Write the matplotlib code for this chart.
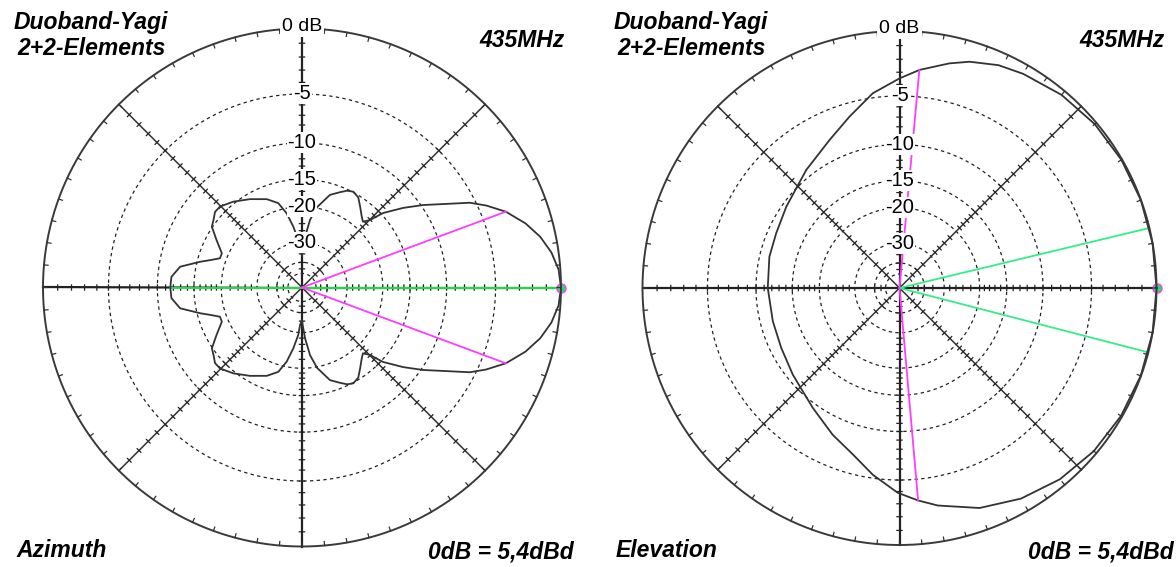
import numpy as np
import matplotlib
matplotlib.use("Agg")
import matplotlib.pyplot as plt

plt.rcParams['font.family'] = ['Liberation Sans', 'DejaVu Sans']
plt.rcParams['lines.scale_dashes'] = False

# ---------------- data ----------------
# Azimuth pattern, upper half (degrees, dB); the lower half is its mirror image
az_deg = [0, 4, 8, 12, 16, 20.4, 24, 26.8, 30.6, 34.3, 38.2, 42.6, 44.8, 47.2, 50,
          54.3, 58, 61.8, 65, 68.3, 73.2, 79.4, 83.2, 86.6, 89, 90, 91, 93, 94.5,
          98.1, 101.7, 105.7, 111.7, 120.5, 128.7, 135.4, 139, 142.7, 146, 150.9,
          156.9, 160.4, 163, 165.8, 170.3, 175.3, 180]
az_db = [0, -0.12, -0.48, -1.05, -1.85, -3.0, -4.3, -5.5, -7.85, -9.8, -12.0, -14.7,
         -17.1, -18.2, -17.6, -16.4, -15.3, -14.9, -15.2, -15.9, -16.9, -19.8, -22.9,
         -28.0, -33.2, -36.0, -35.0, -33.1, -29.1, -24.7, -21.1, -18.6, -17.2, -15.9,
         -14.7, -13.9, -13.9, -14.5, -14.9, -16.7, -18.7, -18.7, -17.3, -15.5, -12.7,
         -11.7, -11.6]

# Elevation pattern, full turn (degrees, dB)
el_deg = [0, 10, 20, 30, 40, 50, 60, 66, 72.8, 77.5, 84.8, 90, 97.8, 106.3, 115.3,
          128.3, 144.3, 156.1, 166.5, 180, 194.7, 206.9, 219.1, 226.9, 234.2, 245.5,
          254.4, 261.9, 269.5, 275, 280, 290, 300, 310, 320, 330, 340, 350, 360]
el_db = [0, 0, -0.01, -0.05, -0.14, -0.33, -0.66, -0.9, -1.4, -1.9, -2.75, -3.5, -4.6,
         -6.26, -7.74, -9.19, -10.5, -11.06, -11.2, -11.47, -11.57, -11.36, -10.74,
         -10.24, -9.47, -8.0, -6.8, -5.3, -3.9, -3.2, -2.6, -1.6, -0.95, -0.5, -0.22,
         -0.08, -0.02, 0, 0]

# Half-power (-3 dB) directions
az_hp_deg = [20.4, -20.4]
az_hp_db = [-3.0, -3.0]
el_hp_deg = [84.8, -85.0]
el_hp_db = [-2.75, -3.2]

# Front/back line (azimuth) and elevation marker lines
az_fb_deg = [0, 180]
az_fb_db = [0, -11.6]
el_mark_deg = [13.5, -14.5]
el_mark_db = [0, 0]

# Grid
ring_levels = [-5, -10, -15, -20, -30, -40, -50]
ring_labels = ['-5', '-10', '-15', '-20', '-30']
spoke_ticks = list(range(-1, -20, -1)) + [-22, -24, -26, -28, -35, -40, -45]

title_lines = ['Duoband-Yagi', '2+2-Elements']
freq_text = '435MHz'
ref_text = '0dB = 5,4dBd'
panel_names = ['Azimuth', 'Elevation']

# ---------------- scale ----------------
GAIN_BASE = 0.89     # ARRL log-periodic scale: 0.89 per 2 dB
R_MIN = -200.0


def fwd(db):
    return np.power(GAIN_BASE, -np.asarray(db, dtype=float) / 2.0)


def inv(v):
    v = np.clip(np.asarray(v, dtype=float), 1e-300, None)
    return -2.0 * np.log(v) / np.log(GAIN_BASE)


W, H = 1176, 567
fig = plt.figure(figsize=(W / 100, H / 100), dpi=100)
fig.patch.set_facecolor('white')

PAT_COLOR = '#333333'
MAGENTA = '#ff3cff'


def make_axes(cx, cy, rad):
    ax = fig.add_axes([(cx - rad) / W, (H - cy - rad) / H, 2 * rad / W, 2 * rad / H],
                      projection='polar')
    ax.set_rscale('function', functions=(fwd, inv))
    ax.set_rlim(R_MIN, 0)
    ax.set_xticks([])
    ax.set_yticks([])
    ax.grid(False)
    ax.spines['polar'].set_visible(False)
    ax.patch.set_visible(False)
    return ax


def draw_grid(ax, rad):
    th = np.linspace(0, 2 * np.pi, 1441)
    for lev in ring_levels:
        ax.plot(th, np.full_like(th, lev), color='#222222', lw=0.9,
                dashes=(2.4, 2.4), clip_on=False, zorder=1)
    # spokes
    for a in range(0, 360, 45):
        main = a % 90 == 0
        ax.plot([np.deg2rad(a)] * 2, [R_MIN, 0], color='#222222' if main else '#333333',
                lw=1.6 if main else 1.1, clip_on=False, zorder=2)
    # tick marks across the spokes
    ts, rs = [], []
    half = 2.6
    for a in range(0, 360, 45):
        for lev in spoke_ticks:
            d = half / (rad * fwd(lev))
            t0 = np.deg2rad(a)
            ts += [t0 - d, t0 + d, np.nan]
            rs += [lev, lev, np.nan]
    ax.plot(ts, rs, color='#222222', lw=0.9, clip_on=False, zorder=2)
    # outer circle with inward ticks every 5 degrees
    ax.plot(th, np.zeros_like(th), color='#3a3a3a', lw=1.4, clip_on=False, zorder=6)
    tick_db = float(inv(1 - 4.0 / rad))
    ts, rs = [], []
    for a in range(0, 360, 5):
        t0 = np.deg2rad(a)
        ts += [t0, t0, np.nan]
        rs += [0, tick_db, np.nan]
    ax.plot(ts, rs, color='#333333', lw=0.9, clip_on=False, zorder=6)
    # ring labels
    for lev, lab in zip(ring_levels, ring_labels):
        ax.text(np.pi / 2, lev, lab, ha='center', va='center', fontsize=14.5,
                color='black', zorder=10,
                bbox=dict(boxstyle='square,pad=0.05', fc='white', ec='none'))
    ax.annotate('0 dB', xy=(np.pi / 2, 0), xytext=(0, 1.5), textcoords='offset points',
                ha='center', va='center', fontsize=14, color='black', zorder=10,
                annotation_clip=False,
                bbox=dict(boxstyle='square,pad=0.1', fc='white', ec='none'))


def draw_texts(dx, name):
    fig.text((91 + dx) / W, 1 - 29.5 / H, title_lines[0], fontsize=16.5, weight='bold',
             style='italic', ha='center', va='baseline')
    fig.text((92 + dx) / W, 1 - 55 / H, title_lines[1], fontsize=16.5, weight='bold',
             style='italic', ha='center', va='baseline')
    fig.text((565 + dx) / W, 1 - 47 / H, freq_text, fontsize=16.5, weight='bold',
             style='italic', ha='right', va='baseline')
    fig.text((16 + dx) / W, 1 - 557 / H, name, fontsize=16.5, weight='bold',
             style='italic', ha='left', va='baseline')
    fig.text((574 + dx) / W, 1 - 558 / H, ref_text, fontsize=16.5, weight='bold',
             style='italic', ha='right', va='baseline')


# ---------------- azimuth ----------------
R1 = 259
ax1 = make_axes(302, 287.5, R1)
draw_grid(ax1, R1)
a_deg = np.array(az_deg)
a_db = np.array(az_db)
full_deg = np.concatenate([a_deg, 360 - a_deg[::-1][1:]])
full_db = np.concatenate([a_db, a_db[::-1][1:]])
ax1.plot(np.deg2rad(full_deg), full_db, color=PAT_COLOR, lw=1.3, clip_on=False, zorder=4)
for d, g in zip(az_fb_deg, az_fb_db):
    ax1.plot([np.deg2rad(d)] * 2, [R_MIN, g], color='#22ee44', lw=1.3, clip_on=False, zorder=3)
for d, g in zip(az_hp_deg, az_hp_db):
    ax1.plot([np.deg2rad(d)] * 2, [R_MIN, g], color=MAGENTA, lw=1.3, clip_on=False, zorder=5)
ax1.plot([0], [0], 'o', ms=6.5, mfc='#22dd66', mec=MAGENTA, mew=1.0, clip_on=False, zorder=5)
draw_texts(0, panel_names[0])

# ---------------- elevation ----------------
R2 = 257
ax2 = make_axes(899.5, 288, R2)
draw_grid(ax2, R2)
ax2.plot(np.deg2rad(el_deg), el_db, color=PAT_COLOR, lw=1.3, clip_on=False, zorder=4)
for d, g in zip(el_mark_deg, el_mark_db):
    ax2.plot([np.deg2rad(d)] * 2, [R_MIN, g], color='#33ee88', lw=1.3, clip_on=False, zorder=3)
for d, g in zip(el_hp_deg, el_hp_db):
    ax2.plot([np.deg2rad(d)] * 2, [R_MIN, g], color=MAGENTA, lw=1.3, clip_on=False, zorder=5)
ax2.plot([0], [0], 'o', ms=6.5, mfc='#22dd66', mec=MAGENTA, mew=1.0, clip_on=False, zorder=5)
draw_texts(599.5, panel_names[1])

fig.savefig('out.png', dpi=100, facecolor='white')
